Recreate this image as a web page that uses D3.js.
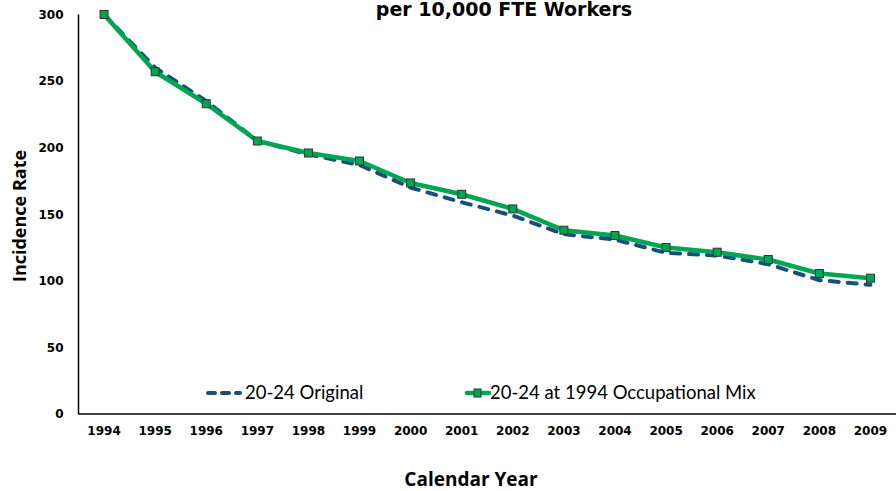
<!DOCTYPE html>
<html>
<head>
<meta charset="utf-8">
<script src="https://cdn.jsdelivr.net/npm/d3@7"></script>
<style>
  html, body { margin: 0; padding: 0; background: #fff; }
</style>
</head>
<body>
<div id="chart"></div>
<script>
const years = ['1994','1995','1996','1997','1998','1999','2000','2001',
               '2002','2003','2004','2005','2006','2007','2008','2009'];
const original = [300, 260, 235, 205, 195, 187, 170, 159, 149, 135, 131, 121, 119, 112.5, 100.5, 97];
const mix1994  = [300, 257, 233, 205, 196, 190, 173.5, 165, 154, 138, 134, 125, 121.5, 116, 105.5, 102];
const yTicks = [0, 50, 100, 150, 200, 250, 300];

const GREEN = '#00a651';
const BLUE = '#15507a';
const INK = '#000';

const W = 896, H = 491;
const mLeft = 78.5, mRight = 896, mTop = 14.5, mBottom = 414;

const svg = d3.select('#chart').append('svg')
  .attr('width', W).attr('height', H);

const x = d3.scaleBand().domain(years).range([mLeft, mRight]);
const y = d3.scaleLinear().domain([0, 300]).range([mBottom, mTop]);
const cx = d => x(d) + x.bandwidth() / 2;

// Title
svg.append('text')
  .attr('x', 504).attr('y', 16)
  .attr('text-anchor', 'middle')
  .attr('font-family', 'DejaVu Sans, sans-serif')
  .attr('font-weight', 'bold')
  .attr('font-size', 19)
  .text('per 10,000 FTE Workers');

// Axes
svg.append('g')
  .attr('transform', `translate(${mLeft},0)`)
  .call(d3.axisLeft(y).tickValues(yTicks).tickSize(0).tickPadding(15))
  .call(g => g.select('.domain').attr('stroke', INK).attr('stroke-width', 1.5)
    .attr('d', `M0,${mTop}V${mBottom}`))
  .call(g => g.selectAll('text')
    .attr('font-family', 'DejaVu Sans, sans-serif')
    .attr('font-weight', 'bold').attr('font-size', 12).attr('fill', INK));

svg.append('g')
  .attr('transform', `translate(0,${mBottom})`)
  .call(d3.axisBottom(x).tickSize(0).tickPadding(12.5))
  .call(g => g.select('.domain').attr('stroke', INK).attr('stroke-width', 1.5)
    .attr('d', `M${mLeft},0H${mRight}`))
  .call(g => g.selectAll('text')
    .attr('font-family', 'DejaVu Sans, sans-serif')
    .attr('font-weight', 'bold').attr('font-size', 12).attr('fill', INK));

// Axis titles
svg.append('text')
  .attr('transform', 'translate(26,216) rotate(-90)')
  .attr('text-anchor', 'middle')
  .attr('font-family', 'Open Sans, sans-serif')
  .attr('font-weight', 'bold')
  .attr('font-size', 18)
  .text('Incidence Rate');

svg.append('text')
  .attr('x', 471).attr('y', 486)
  .attr('text-anchor', 'middle')
  .attr('font-family', 'Open Sans, sans-serif')
  .attr('font-weight', 'bold')
  .attr('font-size', 19)
  .text('Calendar Year');

// Lines
const line = vals => d3.line()
  .x((d, i) => cx(years[i]))
  .y(d => y(d))(vals);

svg.append('path')
  .attr('d', line(original))
  .attr('fill', 'none')
  .attr('stroke', BLUE)
  .attr('stroke-width', 4)
  .attr('stroke-dasharray', '9,9')
  .attr('stroke-linecap', 'round');

svg.append('path')
  .attr('d', line(mix1994))
  .attr('fill', 'none')
  .attr('stroke', GREEN)
  .attr('stroke-width', 4.5)
  .attr('stroke-linejoin', 'round');

svg.selectAll('.mk')
  .data(mix1994)
  .join('rect')
  .attr('class', 'mk')
  .attr('x', (d, i) => cx(years[i]) - 4)
  .attr('y', d => y(d) - 4)
  .attr('width', 8).attr('height', 8)
  .attr('fill', GREEN)
  .attr('stroke', '#333')
  .attr('stroke-width', 1);

// Legend
const lg = svg.append('g').attr('font-family', 'Lato, sans-serif').attr('font-size', 18.5);
lg.append('line')
  .attr('x1', 208).attr('x2', 240).attr('y1', 393).attr('y2', 393)
  .attr('stroke', BLUE).attr('stroke-width', 4)
  .attr('stroke-dasharray', '7,7').attr('stroke-linecap', 'round');
lg.append('text').attr('x', 245).attr('y', 399).text('20-24 Original');

lg.append('line')
  .attr('x1', 467).attr('x2', 489).attr('y1', 393).attr('y2', 393)
  .attr('stroke', GREEN).attr('stroke-width', 4.5).attr('stroke-linecap', 'round');
lg.append('rect')
  .attr('x', 474).attr('y', 389).attr('width', 7).attr('height', 8)
  .attr('fill', GREEN).attr('stroke', '#333').attr('stroke-width', 1);
lg.append('text').attr('x', 490).attr('y', 399).text('20-24 at 1994 Occupational Mix');
</script>
</body>
</html>
